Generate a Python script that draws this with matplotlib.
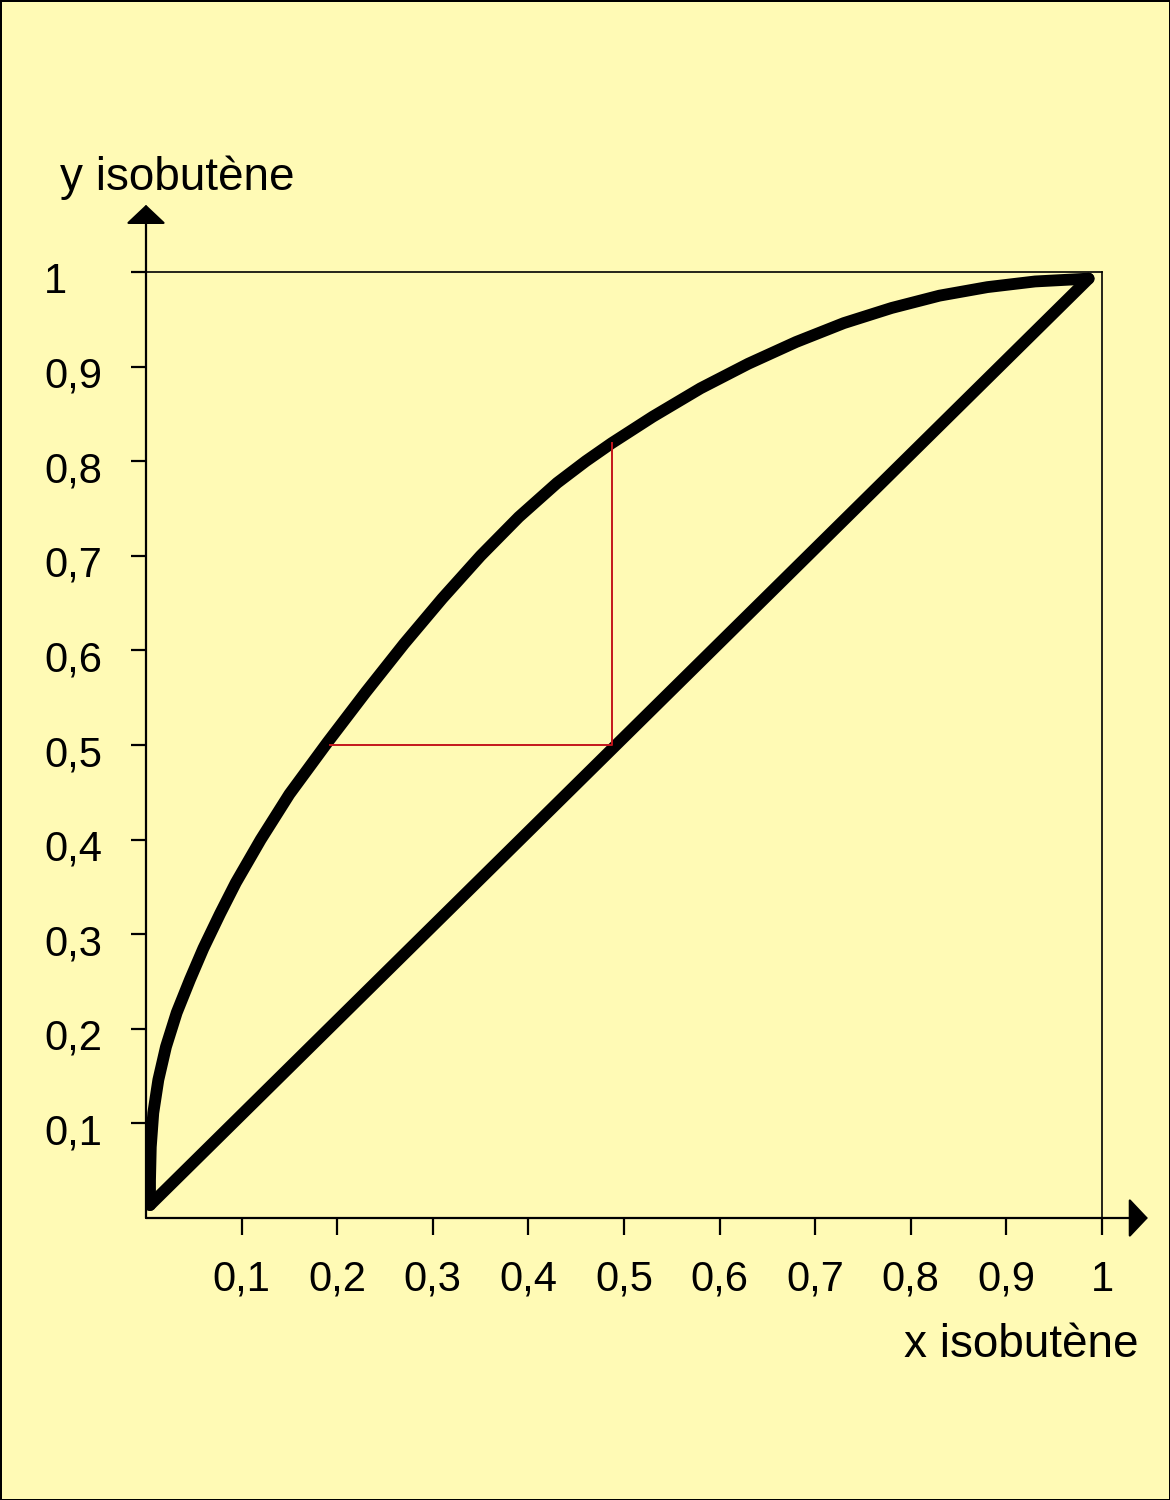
import matplotlib.pyplot as plt
from matplotlib.transforms import ScaledTranslation

plt.rcParams['font.family'] = ['Liberation Sans', 'DejaVu Sans']

# courbe d'équilibre
x_eq = [0.0042, 0.0042, 0.0050, 0.0076, 0.0129, 0.0209, 0.0321, 0.0460, 0.0600, 0.0774,
        0.094, 0.120, 0.150, 0.190, 0.230, 0.270, 0.310, 0.350, 0.390, 0.430, 0.460, 0.487,
        0.530, 0.580, 0.630, 0.680, 0.730, 0.780, 0.830, 0.880, 0.930, 0.986]
y_eq = [0.0137, 0.040, 0.075, 0.111, 0.146, 0.181, 0.217, 0.252, 0.285, 0.3215,
        0.3545, 0.400, 0.448, 0.503, 0.556, 0.607, 0.655, 0.700, 0.741, 0.777, 0.800, 0.819,
        0.847, 0.877, 0.903, 0.926, 0.946, 0.962, 0.975, 0.984, 0.990, 0.993]
# diagonale y = x
x_diag = [0.0042, 0.986]
y_diag = [0.0137, 0.993]
# construction en rouge
x_step = [0.192, 0.487, 0.487]
y_step = [0.5, 0.5, 0.8196]

ticks = [0.1, 0.2, 0.3, 0.4, 0.5, 0.6, 0.7, 0.8, 0.9, 1]
tick_labels = ['0,1', '0,2', '0,3', '0,4', '0,5', '0,6', '0,7', '0,8', '0,9', '1']

bg = '#fffab5'
fig = plt.figure(figsize=(11.7, 15), dpi=100, facecolor=bg)
fig.patch.set_edgecolor('black')
fig.patch.set_linewidth(2)
ax = fig.add_axes([146 / 1170, 1 - 1218 / 1500, 956 / 1170, 946 / 1500])
ax.set_facecolor(bg)
ax.set_xlim(0, 1)
ax.set_ylim(0, 1)

ax.plot(x_eq, y_eq, color='black', lw=8.5, solid_capstyle='round', solid_joinstyle='round')
ax.plot(x_diag, y_diag, color='black', lw=8.5, solid_capstyle='round')
ax.plot(x_step, y_step, color='#c4161c', lw=1.4)

for s in ['top', 'right']:
    ax.spines[s].set_linewidth(1.2)
for s in ['left', 'bottom']:
    ax.spines[s].set_visible(False)

arrow = dict(arrowstyle='-|>,head_length=0.85,head_width=0.9', lw=1.6, color='black',
             mutation_scale=14, shrinkA=0, shrinkB=0)
ax.annotate('', xy=(0, 1.071), xytext=(0, 0), arrowprops=arrow, annotation_clip=False)
ax.annotate('', xy=(1.048, 0), xytext=(0, 0), arrowprops=arrow, annotation_clip=False)

ax.set_xticks(ticks)
ax.set_xticklabels(tick_labels)
ax.set_yticks(ticks)
ax.set_yticklabels([])
ax.tick_params(axis='x', direction='out', length=12, width=1.6, labelsize=30, pad=18)
ax.tick_params(axis='y', direction='out', length=11, width=1.6)

# étiquettes de l'axe y, alignées à gauche
shift = ax.get_yaxis_transform() + ScaledTranslation(-102 / 100, -10 / 100, fig.dpi_scale_trans)
for v, lab in zip(ticks, tick_labels):
    ax.text(0, v, lab, fontsize=30, ha='left', va='center', transform=shift)

ax.text(1.0377, -0.134, 'x isobutène', fontsize=33, ha='right', va='center',
        transform=ax.transData, clip_on=False)
ax.text(-0.09, 1.1, 'y isobutène', fontsize=33, ha='left', va='center',
        transform=ax.transData, clip_on=False)

fig.savefig('out.png', dpi=100, facecolor=bg, edgecolor='black')
